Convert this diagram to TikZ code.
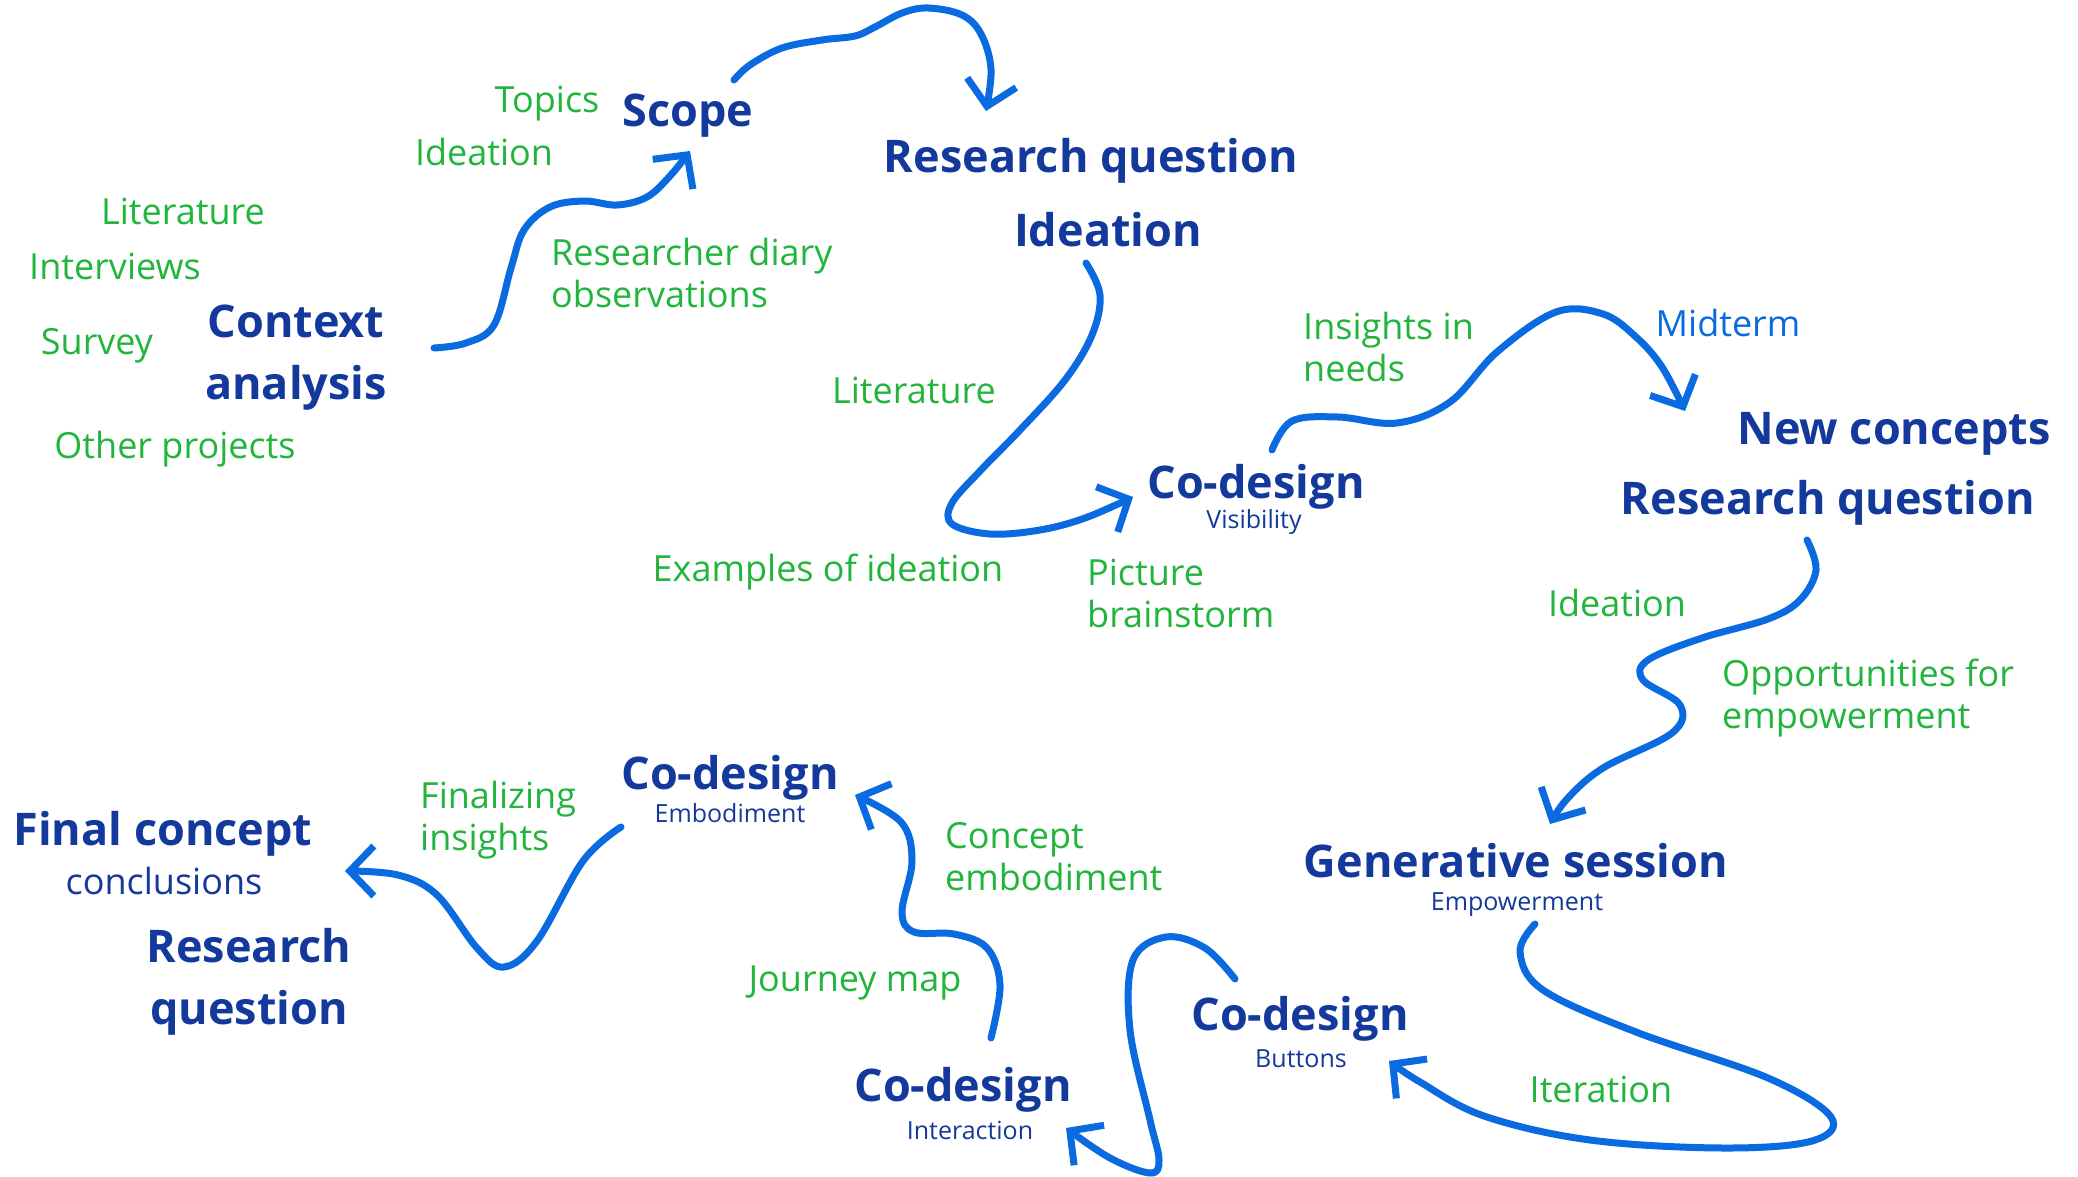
\documentclass[tikz,border=0pt]{standalone}
\usepackage{fontspec}
\setmainfont{Open Sans}
\usetikzlibrary{arrows.meta}
\definecolor{navy}{HTML}{12399B}
\definecolor{grn}{HTML}{22B53C}
\definecolor{ablue}{HTML}{0A6ADF}
\tikzset{
  hd/.style={font=\fontsize{45}{62}\selectfont\bfseries, text=navy, inner sep=0pt, align=center},
  gl/.style={font=\fontsize{36}{42}\selectfont, text=grn, inner sep=0pt, align=left},
  subl/.style={font=\fontsize{25}{28}\selectfont, text=navy, inner sep=0pt},
  arr/.style={draw=ablue, line width=7pt, line cap=round, line join=round,
    -{Straight Barb[length=24pt,width=50pt]}},
}
\begin{document}
\begin{tikzpicture}[x=1pt,y=-1pt]
\useasboundingbox[fill=white] (0,0) rectangle (2078,1177);
% headings
\node[hd] (scope) at (688,116) {Scope};
\node[hd] (rq1) at (1091,161) {Research question};
\node[hd] (id1) at (1108,230) {Ideation};
\node[hd] (ctx) at (296,358) {Context\\analysis};
\node[hd] (cdv) at (1256,487) {Co-design};
\node[subl] (vis) at (1254,522) {Visibility};
\node[hd] (nc) at (1894,434) {New concepts};
\node[hd] (rq2) at (1828,503) {Research question};
\node[hd] (gen) at (1516,861) {Generative session};
\node[subl] (emp) at (1517,905) {Empowerment};
\node[hd] (cdb) at (1300,1019) {Co-design};
\node[subl] (btn) at (1301,1059) {Buttons};
\node[hd] (cdi) at (963,1090) {Co-design};
\node[subl] (int) at (970,1130) {Interaction};
\node[hd] (cde) at (730,778) {Co-design};
\node[subl] (emb) at (730,813) {Embodiment};
\node[hd] (fc) at (163,834) {Final concept};
\node[font=\fontsize{36}{40}\selectfont, text=navy, inner sep=0pt] (concl) at (164,881) {conclusions};
\node[hd] (rq3) at (249,982) {Research\\question};
% green labels
\node[gl] (g1) at (547,104) {Topics};
\node[gl] (g2) at (484,152) {Ideation};
\node[gl] (g3) at (183,211) {Literature};
\node[gl] (g4) at (115,266) {Interviews};
\node[gl] (g5) at (97,346) {Survey};
\node[gl] (g6) at (175,449) {Other projects};
\node[gl, anchor=west] (g7) at (551,273) {Researcher diary\\observations};
\node[gl] (g8) at (914,390) {Literature};
\node[gl] (g9) at (828,572) {Examples of ideation};
\node[gl, anchor=west] (g10) at (1087,593) {Picture\\brainstorm};
\node[gl, anchor=west] (g11) at (1303,347) {Insights in\\needs};
\node[gl, text=ablue] (g12) at (1728,323) {Midterm};
\node[gl] (g13) at (1617,603) {Ideation};
\node[gl, anchor=west] (g14) at (1722,698) {Opportunities for\\empowerment};
\node[gl, anchor=west] (g15) at (945,857) {Concept\\embodiment};
\node[gl, anchor=west] (g16) at (420,820) {Finalizing\\insights};
\node[gl] (g17) at (855,983) {Journey map};
\node[gl] (g18) at (1601,1089) {Iteration};
% connector ends
\coordinate (a1) at (434,348);  \coordinate (b1) at (690,151);
\coordinate (a2) at (734,80);   \coordinate (b2) at (986,111);
\coordinate (a3) at (1086,263); \coordinate (b3) at (1133,497);
\coordinate (a4) at (1272,450); \coordinate (b4) at (1685,411);
\coordinate (a5) at (1807,540); \coordinate (b5) at (1550,824);
\coordinate (a6) at (1535,924); \coordinate (b6) at (1389,1061);
\coordinate (a7) at (1235,979); \coordinate (b7) at (1066,1128);
\coordinate (a8) at (991,1038); \coordinate (b8) at (855,795);
\coordinate (a9) at (621,827);  \coordinate (b9) at (345,871);
% connectors
\draw[arr] plot[smooth, tension=0.6] coordinates {(a1) (466,343) (494,325) (511,268) (524,230) (550,207) (584,201) (617,205) (647,197) (670,176) (b1)};
\draw[arr] plot[smooth, tension=0.6] coordinates {(a2) (750,65) (782,48) (822,40) (855,36) (875,27) (902,13) (928,8) (962,15) (981,34) (991,69) (b2)};
\draw[arr] plot[smooth, tension=0.6] coordinates {(a3) (1100,295) (1092,335) (1065,380) (1020,430) (981,470) (952,503) (952,524) (990,534) (1040,530) (1085,518) (b3)};
\draw[arr] plot[smooth, tension=0.6] coordinates {(a4) (1292,421) (1338,417) (1397,423) (1450,402) (1497,352) (1556,312) (1603,314) (1636,337) (1662,367) (b4)};
\draw[arr] plot[smooth, tension=0.6] coordinates {(a5) (1816,570) (1800,600) (1768,619) (1702,638) (1648,660) (1643,680) (1680,705) (1672,733) (1603,768) (1567,799) (b5)};
\draw[arr] plot[smooth, tension=0.6] coordinates {(a6) (1520,952) (1543,990) (1636,1032) (1768,1078) (1831,1117) (1812,1141) (1723,1148) (1590,1140) (1484,1116) (1420,1082) (b6)};
\draw[arr] plot[smooth, tension=0.6] coordinates {(a7) (1205,948) (1166,937) (1133,960) (1130,1030) (1150,1120) (1159,1160) (1150,1173) (1110,1158) (b7)};
\draw[arr] plot[smooth, tension=0.6] coordinates {(a8) (1000,985) (987,948) (954,934) (914,932) (902,912) (912,861) (901,822) (b8)};
\draw[arr] plot[smooth, tension=0.6] coordinates {(a9) (583,861) (537,941) (504,967) (477,948) (437,895) (398,875) (b9)};
\end{tikzpicture}
\end{document}
